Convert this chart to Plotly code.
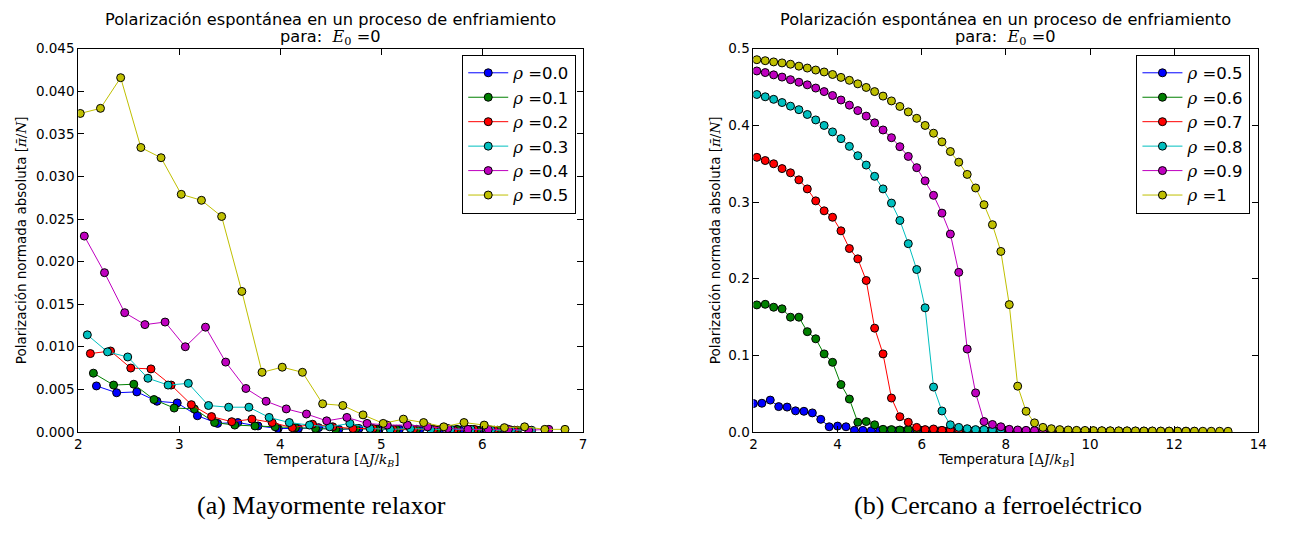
import plotly.graph_objects as go

# ---------------- Left panel data (mayormente relaxor) ----------------
rho_left = ["0.0", "0.1", "0.2", "0.3", "0.4", "0.5"]

x_l0 = [2.18, 2.38, 2.58, 2.78, 2.98, 3.18, 3.38, 3.58, 3.78, 3.98, 4.18, 4.38, 4.58, 4.78, 4.98, 5.18, 5.38, 5.58, 5.78, 5.98, 6.18]
y_l0 = [0.0054, 0.0046, 0.0047, 0.0036, 0.0034, 0.0019, 0.0010, 0.0011, 0.0007, 0.0004, 0.0004, 0.0005, 0.0003, 0.0004, 0.0003, 0.0003, 0.0002, 0.0003, 0.0002, 0.0002, 0.0002]

x_l1 = [2.15, 2.35, 2.55, 2.75, 2.95, 3.15, 3.35, 3.55, 3.75, 3.95, 4.15, 4.35, 4.55, 4.75, 4.95, 5.15, 5.35, 5.55, 5.75, 5.95, 6.15, 6.35]
y_l1 = [0.0069, 0.0055, 0.0056, 0.0038, 0.0028, 0.0027, 0.0011, 0.0008, 0.0007, 0.0006, 0.0005, 0.0004, 0.0003, 0.0004, 0.0003, 0.0003, 0.0003, 0.0002, 0.0003, 0.0002, 0.0002, 0.0002]

x_l2 = [2.12, 2.32, 2.52, 2.72, 2.92, 3.12, 3.32, 3.52, 3.72, 3.92, 4.12, 4.32, 4.52, 4.72, 4.92, 5.12, 5.32, 5.52, 5.72, 5.92, 6.12, 6.32]
y_l2 = [0.0092, 0.0095, 0.0075, 0.0074, 0.0055, 0.0032, 0.0018, 0.0012, 0.0015, 0.0011, 0.0005, 0.0009, 0.0006, 0.0004, 0.0004, 0.0003, 0.0003, 0.0003, 0.0002, 0.0003, 0.0002, 0.0002]

x_l3 = [2.09, 2.29, 2.49, 2.69, 2.89, 3.09, 3.29, 3.49, 3.69, 3.89, 4.09, 4.29, 4.49, 4.69, 4.89, 5.09, 5.29, 5.49, 5.69, 5.89, 6.09, 6.29, 6.49]
y_l3 = [0.0114, 0.0094, 0.0088, 0.0063, 0.0055, 0.0057, 0.0031, 0.0029, 0.0029, 0.0017, 0.0011, 0.0008, 0.0006, 0.0010, 0.0004, 0.0003, 0.0004, 0.0003, 0.0003, 0.0003, 0.0002, 0.0002, 0.0002]

x_l4 = [2.06, 2.26, 2.46, 2.66, 2.86, 3.06, 3.26, 3.46, 3.66, 3.86, 4.06, 4.26, 4.46, 4.66, 4.86, 5.06, 5.26, 5.46, 5.66, 5.86, 6.06, 6.26, 6.46, 6.66]
y_l4 = [0.0230, 0.0187, 0.0140, 0.0126, 0.0129, 0.0100, 0.0123, 0.0082, 0.0051, 0.0036, 0.0027, 0.0021, 0.0013, 0.0017, 0.0010, 0.0008, 0.0008, 0.0006, 0.0004, 0.0003, 0.0003, 0.0003, 0.0002, 0.0003]

x_l5 = [2.02, 2.22, 2.42, 2.62, 2.82, 3.02, 3.22, 3.42, 3.62, 3.82, 4.02, 4.22, 4.42, 4.62, 4.82, 5.02, 5.22, 5.42, 5.62, 5.82, 6.02, 6.22, 6.42, 6.62, 6.82]
y_l5 = [0.0374, 0.0380, 0.0416, 0.0334, 0.0322, 0.0279, 0.0272, 0.0253, 0.0165, 0.0070, 0.0076, 0.0070, 0.0033, 0.0031, 0.0020, 0.0010, 0.0015, 0.0011, 0.0006, 0.0011, 0.0008, 0.0005, 0.0006, 0.0003, 0.0003]

# ---------------- Right panel data (cercano a ferroeléctrico) ----------------
rho_right = ["0.5", "0.6", "0.7", "0.8", "0.9", "1"]

x_r0 = [2.00, 2.20, 2.40, 2.60, 2.80, 3.00, 3.20, 3.40, 3.60, 3.80, 4.00, 4.20, 4.40, 4.60, 4.80, 5.00, 5.20, 5.40, 5.60, 5.80, 6.00, 6.20, 6.40, 6.60, 6.80, 7.00, 7.20, 7.40, 7.60, 7.80, 8.00]
y_r0 = [0.0370, 0.0374, 0.0415, 0.0330, 0.0324, 0.0275, 0.0269, 0.0248, 0.0164, 0.0067, 0.0076, 0.0067, 0.0020, 0.0020, 0.0015, 0.0014, 0.0013, 0.0012, 0.0012, 0.0011, 0.0011, 0.0010, 0.0010, 0.0010, 0.0009, 0.0009, 0.0009, 0.0008, 0.0008, 0.0008, 0.0007]

x_r1 = [2.08, 2.28, 2.48, 2.68, 2.88, 3.08, 3.28, 3.48, 3.68, 3.88, 4.08, 4.28, 4.48, 4.68, 4.88, 5.08, 5.28, 5.48, 5.68, 5.88, 6.08, 6.28, 6.48, 6.68, 6.88, 7.08, 7.28, 7.48, 7.68, 7.88, 8.08, 8.28, 8.48, 8.68, 8.88, 9.08, 9.28, 9.48]
y_r1 = [0.1657, 0.1665, 0.1627, 0.1606, 0.1497, 0.1497, 0.1308, 0.1215, 0.1018, 0.0908, 0.0618, 0.0429, 0.0126, 0.0135, 0.0093, 0.0034, 0.0030, 0.0025, 0.0030, 0.0034, 0.0022, 0.0020, 0.0018, 0.0017, 0.0016, 0.0015, 0.0014, 0.0013, 0.0012, 0.0012, 0.0011, 0.0011, 0.0010, 0.0010, 0.0009, 0.0009, 0.0009, 0.0008]

x_r2 = [2.08, 2.28, 2.48, 2.68, 2.88, 3.08, 3.28, 3.48, 3.68, 3.88, 4.08, 4.28, 4.48, 4.68, 4.88, 5.08, 5.28, 5.48, 5.68, 5.88, 6.08, 6.28, 6.48, 6.68, 6.88, 7.08, 7.28, 7.48, 7.68, 7.88, 8.08, 8.28, 8.48, 8.68, 8.88, 9.08, 9.28, 9.48, 9.68, 9.88, 10.08, 10.28, 10.48]
y_r2 = [0.3583, 0.3541, 0.3499, 0.3436, 0.3381, 0.3289, 0.3171, 0.3015, 0.2885, 0.2801, 0.2624, 0.2393, 0.2258, 0.1976, 0.1354, 0.1018, 0.0442, 0.0198, 0.0126, 0.0059, 0.0030, 0.0038, 0.0020, 0.0025, 0.0020, 0.0018, 0.0017, 0.0015, 0.0014, 0.0013, 0.0012, 0.0012, 0.0011, 0.0011, 0.0010, 0.0010, 0.0009, 0.0009, 0.0009, 0.0008, 0.0008, 0.0008, 0.0007]

x_r3 = [2.08, 2.28, 2.48, 2.68, 2.88, 3.08, 3.28, 3.48, 3.68, 3.88, 4.08, 4.28, 4.48, 4.68, 4.88, 5.08, 5.28, 5.48, 5.68, 5.88, 6.08, 6.28, 6.48, 6.68, 6.88, 7.08, 7.28, 7.48, 7.68, 7.88, 8.08, 8.28, 8.48, 8.68, 8.88, 9.08, 9.28, 9.48, 9.68, 9.88, 10.08, 10.28, 10.48, 10.68, 10.88, 11.08, 11.28, 11.48]
y_r3 = [0.4403, 0.4373, 0.4340, 0.4298, 0.4251, 0.4205, 0.4142, 0.4071, 0.3999, 0.3915, 0.3827, 0.3726, 0.3604, 0.3482, 0.3335, 0.3171, 0.2986, 0.2759, 0.2456, 0.2119, 0.1619, 0.0585, 0.0273, 0.0093, 0.0059, 0.0042, 0.0030, 0.0030, 0.0025, 0.0022, 0.0020, 0.0018, 0.0016, 0.0015, 0.0014, 0.0013, 0.0012, 0.0012, 0.0011, 0.0011, 0.0010, 0.0010, 0.0009, 0.0009, 0.0009, 0.0008, 0.0008, 0.0008]

x_r4 = [2.08, 2.28, 2.48, 2.68, 2.88, 3.08, 3.28, 3.48, 3.68, 3.88, 4.08, 4.28, 4.48, 4.68, 4.88, 5.08, 5.28, 5.48, 5.68, 5.88, 6.08, 6.28, 6.48, 6.68, 6.88, 7.08, 7.28, 7.48, 7.68, 7.88, 8.08, 8.28, 8.48, 8.68, 8.88, 9.08, 9.28, 9.48, 9.68, 9.88, 10.08, 10.28, 10.48, 10.68, 10.88, 11.08, 11.28, 11.48, 11.68, 11.88, 12.08, 12.28, 12.48]
y_r4 = [0.4710, 0.4689, 0.4659, 0.4630, 0.4596, 0.4563, 0.4529, 0.4487, 0.4441, 0.4390, 0.4331, 0.4264, 0.4193, 0.4121, 0.4033, 0.3940, 0.3839, 0.3722, 0.3595, 0.3448, 0.3276, 0.3087, 0.2855, 0.2582, 0.2082, 0.1081, 0.0509, 0.0135, 0.0097, 0.0067, 0.0034, 0.0025, 0.0020, 0.0018, 0.0016, 0.0015, 0.0014, 0.0013, 0.0012, 0.0012, 0.0011, 0.0011, 0.0010, 0.0010, 0.0010, 0.0009, 0.0009, 0.0009, 0.0008, 0.0008, 0.0008, 0.0008, 0.0007]

x_r5 = [2.08, 2.28, 2.48, 2.68, 2.88, 3.08, 3.28, 3.48, 3.68, 3.88, 4.08, 4.28, 4.48, 4.68, 4.88, 5.08, 5.28, 5.48, 5.68, 5.88, 6.08, 6.28, 6.48, 6.68, 6.88, 7.08, 7.28, 7.48, 7.68, 7.88, 8.08, 8.28, 8.48, 8.68, 8.88, 9.08, 9.28, 9.48, 9.68, 9.88, 10.08, 10.28, 10.48, 10.68, 10.88, 11.08, 11.28, 11.48, 11.68, 11.88, 12.08, 12.28, 12.48, 12.68, 12.88, 13.08, 13.28]
y_r5 = [0.4857, 0.4844, 0.4828, 0.4815, 0.4798, 0.4773, 0.4748, 0.4722, 0.4697, 0.4664, 0.4626, 0.4588, 0.4542, 0.4495, 0.4441, 0.4382, 0.4319, 0.4247, 0.4176, 0.4092, 0.3999, 0.3898, 0.3785, 0.3659, 0.3520, 0.3360, 0.3183, 0.2965, 0.2704, 0.2355, 0.1661, 0.0597, 0.0269, 0.0118, 0.0059, 0.0042, 0.0030, 0.0025, 0.0020, 0.0019, 0.0017, 0.0016, 0.0015, 0.0014, 0.0014, 0.0013, 0.0012, 0.0012, 0.0011, 0.0011, 0.0010, 0.0010, 0.0010, 0.0009, 0.0009, 0.0009, 0.0008]

left_x = [x_l0, x_l1, x_l2, x_l3, x_l4, x_l5]
left_y = [y_l0, y_l1, y_l2, y_l3, y_l4, y_l5]
right_x = [x_r0, x_r1, x_r2, x_r3, x_r4, x_r5]
right_y = [y_r0, y_r1, y_r2, y_r3, y_r4, y_r5]

left_ticks_x = [2, 3, 4, 5, 6, 7]
left_ticks_y = [0.000, 0.005, 0.010, 0.015, 0.020, 0.025, 0.030, 0.035, 0.040, 0.045]
right_ticks_x = [2, 4, 6, 8, 10, 12, 14]
right_ticks_y = [0.0, 0.1, 0.2, 0.3, 0.4, 0.5]

colors = ["#0000ff", "#008000", "#ff0000", "#00bfbf", "#bf00bf", "#bfbf00"]

SERIF = "DejaVu Serif"
FONT = "DejaVu Sans"

title_line1 = "Polarización espontánea en un proceso de enfriamiento"
title_line2 = ("para:  <span style=\"font-family:'" + SERIF + "'\"><i>E</i><sub>0</sub> =</span>0")
xlab = ("Temperatura [<span style=\"font-family:'" + SERIF + "'\">Δ<i>J</i>/<i>k</i>"
        "<sub><i>B</i></sub></span>]")
ylab = ("Polarización normada absoluta [<span style=\"font-family:'" + SERIF + "'\">"
        "<i>π̄</i>/<i>N</i></span>]")
captions = ["(a) Mayormente relaxor", "(b) Cercano a ferroeléctrico"]

W, H = 1303, 534

fig = go.Figure()

def legend_name(r):
    return "<span style=\"font-family:'" + SERIF + "'\"><i>ρ</i> =</span>" + r

for i in range(6):
    fig.add_trace(go.Scatter(
        x=left_x[i], y=left_y[i], mode="lines+markers",
        name=legend_name(rho_left[i]),
        line=dict(color=colors[i], width=1),
        marker=dict(color=colors[i], size=8, line=dict(color="black", width=1)),
        xaxis="x", yaxis="y", legend="legend",
    ))
for i in range(6):
    fig.add_trace(go.Scatter(
        x=right_x[i], y=right_y[i], mode="lines+markers",
        name=legend_name(rho_right[i]),
        line=dict(color=colors[i], width=1),
        marker=dict(color=colors[i], size=8, line=dict(color="black", width=1)),
        xaxis="x2", yaxis="y2", legend="legend2",
    ))

# pixel geometry
lx0, lx1 = 75, 585
rx0, rx1 = 757, 1267
ytop, ybot = 42, 437

def px(v):
    return v / W

def py(v):
    return 1 - v / H

axis_common = dict(
    showline=True, linecolor="black", linewidth=1, mirror="ticks",
    ticks="inside", ticklen=6, tickwidth=1, tickcolor="black",
    showgrid=False, zeroline=False,
    tickfont=dict(family=FONT, size=13.5, color="black"),
)

legend_common = dict(
    xanchor="right", yanchor="top",
    bordercolor="black", borderwidth=1, bgcolor="white",
    font=dict(family=FONT, size=16.5, color="black"),
    tracegroupgap=0, itemwidth=40,
)

fig.update_layout(
    width=W, height=H,
    margin=dict(l=0, r=0, t=0, b=0),
    paper_bgcolor="white", plot_bgcolor="white",
    font=dict(family=FONT, color="black"),
    xaxis=dict(domain=[px(lx0), px(lx1)], range=[2, 7], tickvals=left_ticks_x,
               anchor="y", **axis_common),
    yaxis=dict(domain=[py(ybot), py(ytop)], range=[0, 0.045], tickvals=left_ticks_y,
               tickformat=".3f", anchor="x", **axis_common),
    xaxis2=dict(domain=[px(rx0), px(rx1)], range=[2, 14], tickvals=right_ticks_x,
                anchor="y2", **axis_common),
    yaxis2=dict(domain=[py(ybot), py(ytop)], range=[0, 0.5], tickvals=right_ticks_y,
                tickformat=".1f", anchor="x2", **axis_common),
    legend=dict(x=px(578), y=py(48), **legend_common),
    legend2=dict(x=px(1259), y=py(48), **legend_common),
    showlegend=True,
)

annotations = []
panels = [(lx0, lx1, 18, 321, captions[0]), (rx0, rx1, 718, 1004, captions[1])]
for cx0, cx1, ylab_x, cap_x, cap in panels:
    cx = (cx0 + cx1) / 2
    annotations.append(dict(x=px(cx), y=py(12), xref="paper", yref="paper",
                            text=title_line1, showarrow=False, xanchor="center",
                            yanchor="middle", font=dict(family=FONT, size=16.2)))
    annotations.append(dict(x=px(cx), y=py(30), xref="paper", yref="paper",
                            text=title_line2, showarrow=False, xanchor="center",
                            yanchor="middle", font=dict(family=FONT, size=16.2)))
    annotations.append(dict(x=px(cx), y=py(466), xref="paper", yref="paper",
                            text=xlab, showarrow=False, xanchor="center",
                            yanchor="middle", font=dict(family=FONT, size=13.5)))
    annotations.append(dict(x=px(ylab_x), y=py((ytop + ybot) / 2), xref="paper", yref="paper",
                            text=ylab, showarrow=False, textangle=-90, xanchor="center",
                            yanchor="middle", font=dict(family=FONT, size=13.5)))
    annotations.append(dict(x=px(cap_x), y=py(513), xref="paper", yref="paper",
                            text=cap, showarrow=False, xanchor="center",
                            yanchor="middle", font=dict(family="Liberation Serif", size=26)))
fig.update_layout(annotations=annotations)

fig.write_html("out.html")
